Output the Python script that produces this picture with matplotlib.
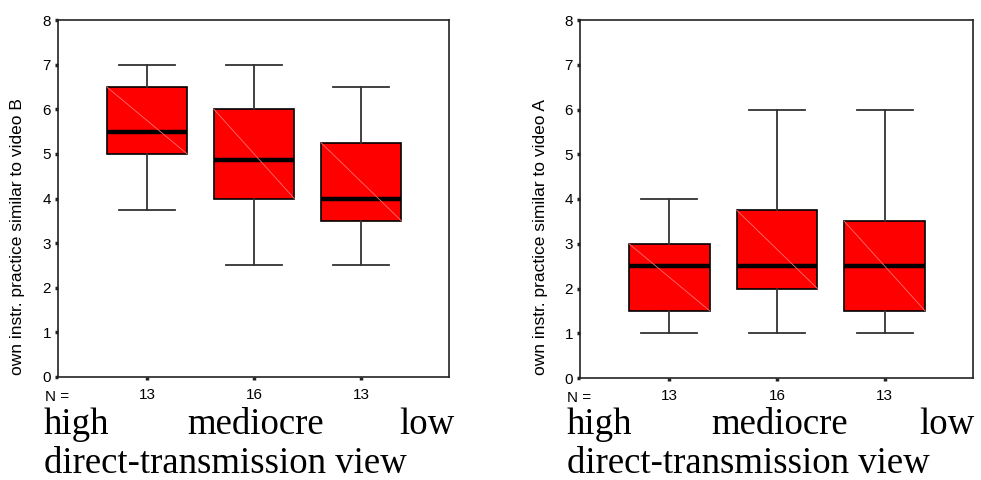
import numpy as np
import matplotlib.pyplot as plt
from matplotlib.patches import Rectangle

# categories and counts
groups = ['high', 'mediocre', 'low']
counts = [13, 16, 13]

# left panel: own instr. practice similar to video B
b_whislo = [3.75, 2.5, 2.5]
b_q1 = [5.0, 4.0, 3.5]
b_med = [5.5, 4.87, 4.0]
b_q3 = [6.5, 6.0, 5.25]
b_whishi = [7.0, 7.0, 6.5]

# right panel: own instr. practice similar to video A
a_whislo = [1.0, 1.0, 1.0]
a_q1 = [1.5, 2.0, 1.5]
a_med = [2.5, 2.5, 2.5]
a_q3 = [3.0, 3.75, 3.5]
a_whishi = [4.0, 6.0, 6.0]

yticks = [0, 1, 2, 3, 4, 5, 6, 7, 8]

fig = plt.figure(figsize=(9.81, 4.8), dpi=100)
W, H = 981.0, 480.0


def px(x0, y0, x1, y1):
    # pixel box -> figure fraction rect
    return [x0 / W, 1 - y1 / H, (x1 - x0) / W, (y1 - y0) / H]


def draw_panel(rect, lo, q1, med, q3, hi, ylabel, label_xpx):
    ax = fig.add_axes(rect)
    stats = []
    for i in range(len(groups)):
        stats.append(dict(whislo=lo[i], q1=q1[i], med=med[i], q3=q3[i], whishi=hi[i], fliers=[]))
    pos = np.arange(1, len(groups) + 1)
    bw = 0.75
    ax.bxp(stats, positions=pos, widths=bw, patch_artist=True, showfliers=False,
           boxprops=dict(facecolor='#ff0000', edgecolor='black', linewidth=1.2),
           medianprops=dict(color='black', linewidth=3.2),
           whiskerprops=dict(color='#333333', linewidth=1.3),
           capprops=dict(color='#333333', linewidth=1.3),
           capwidths=0.52)
    # faint diagonal in each box
    for p, a, b in zip(pos, q3, q1):
        ax.plot([p - bw / 2, p + bw / 2], [a, b], color='#ff7070', lw=0.6, zorder=2.5)
    ax.set_xlim(0.17, 3.82)
    ax.set_ylim(0, 8)
    ax.set_yticks(yticks)
    ax.set_yticklabels([str(t) for t in yticks], fontsize=11, family='Liberation Sans')
    ax.set_xticks(pos)
    ax.set_xticklabels([str(c) for c in counts], fontsize=11, family='Liberation Sans')
    ax.tick_params(axis='both', direction='out', length=2, width=2.5, pad=3, color='#222222')
    ax.tick_params(axis='x', pad=6)
    for s in ax.spines.values():
        s.set_linewidth(1.2)
        s.set_color('#222222')
    ax.text(-13 / (rect[2] * W), -0.036, 'N =', transform=ax.transAxes, fontsize=11,
            family='Liberation Sans', ha='left', va='top')
    fig.text(label_xpx / W, 1 - 237 / H, ylabel, rotation=90, fontsize=12.5,
             family='Liberation Sans', ha='center', va='center')
    return ax


draw_panel(px(58, 20, 449, 377), b_whislo, b_q1, b_med, b_q3, b_whishi,
           'own instr. practice similar to video B', 18)
draw_panel(px(580, 20, 973, 378), a_whislo, a_q1, a_med, a_q3, a_whishi,
           'own instr. practice similar to video A', 540)

# white band clipping the N row of the right panel
fig.patches.append(Rectangle((520 / W, 0), 461 / W, 1 - 402 / H, transform=fig.transFigure,
                             facecolor='white', edgecolor='none', zorder=5))

serif = dict(family='Liberation Serif', fontsize=26.5, zorder=6)
for x0, xm, x1 in [(44, 256, 455), (567, 780, 975)]:
    fig.text(x0 / W, 1 - 434 / H, groups[0], ha='left', va='baseline', **serif)
    fig.text(xm / W, 1 - 434 / H, groups[1], ha='center', va='baseline', **serif)
    fig.text(x1 / W, 1 - 434 / H, groups[2], ha='right', va='baseline', **serif)
    fig.text(x0 / W, 1 - 473 / H, 'direct-transmission view', ha='left', va='baseline', **serif)

fig.savefig('out.png', dpi=100)
